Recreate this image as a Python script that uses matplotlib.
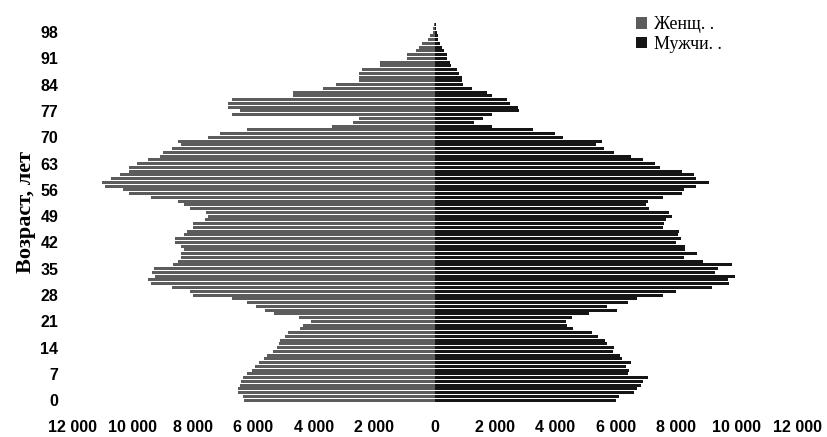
import numpy as np
import matplotlib.pyplot as plt
from matplotlib.ticker import FuncFormatter, FixedLocator

# age 0..100, persons (in thousands)
ages = np.arange(0, 101)

women = [6.3, 6.35, 6.5, 6.5, 6.45, 6.4, 6.35, 6.2, 6.05, 5.95,
         5.8, 5.65, 5.55, 5.35, 5.2, 5.15, 5.1, 4.95, 4.85, 4.45,
         4.35, 4.1, 4.5, 5.3, 5.6, 5.9, 6.2, 6.7, 8.0, 8.1,
         8.7, 9.4, 9.5, 9.25, 9.35, 9.3, 8.65, 8.5, 8.4, 8.4,
         8.3, 8.4, 8.6, 8.6, 8.3, 8.2, 8.0, 8.0, 7.6, 7.5,
         7.55, 8.1, 8.3, 8.5, 9.4, 10.1, 10.3, 10.9, 11.0, 10.7,
         10.4, 10.1, 10.1, 9.85, 9.5, 9.1, 9.0, 8.7, 8.4, 8.5,
         7.5, 7.1, 6.2, 3.4, 2.7, 2.5, 6.7, 6.45, 6.85, 6.85,
         6.7, 4.7, 4.7, 3.7, 3.25, 2.5, 2.5, 2.5, 2.4, 1.8,
         1.8, 0.9, 0.9, 0.6, 0.5, 0.4, 0.2, 0.15, 0.06, 0.05,
         0.03]

men = [6.0, 6.1, 6.6, 6.7, 6.85, 6.9, 7.05, 6.4, 6.45, 6.35,
       6.5, 6.2, 6.15, 5.9, 5.95, 5.7, 5.65, 5.4, 5.2, 4.6,
       4.4, 4.35, 4.55, 5.1, 6.05, 5.7, 6.4, 6.7, 7.55, 8.0,
       9.2, 9.75, 9.7, 9.95, 9.3, 9.4, 9.85, 8.9, 8.25, 8.7,
       8.3, 8.3, 8.0, 8.15, 8.05, 8.1, 7.55, 7.6, 7.65, 7.85,
       7.75, 7.1, 7.0, 7.05, 7.55, 8.2, 8.25, 8.65, 9.1, 8.65,
       8.6, 8.2, 7.45, 7.3, 6.9, 6.5, 5.95, 5.6, 5.35, 5.55,
       4.25, 4.0, 3.25, 1.9, 1.3, 1.6, 1.9, 2.8, 2.75, 2.5,
       2.4, 1.9, 1.75, 1.25, 0.95, 0.9, 0.9, 0.8, 0.75, 0.55,
       0.5, 0.4, 0.4, 0.3, 0.25, 0.17, 0.12, 0.1, 0.07, 0.05,
       0.04]

age_ticks = list(range(0, 99, 7))
x_ticks = list(range(-12000, 12001, 2000))

women = np.array(women) * 1000
men = np.array(men) * 1000

fig = plt.figure(figsize=(8.28, 4.37), dpi=100)
ax = fig.add_axes([0.087, 0.080, 0.8756, 0.868])

ax.barh(ages, -women, height=0.8, color='#5c5c5c', label='Женщ. .')
ax.barh(ages, men, height=0.8, color='#151515', label='Мужчи. .')

ax.set_xlim(-12000, 12000)
ax.set_ylim(-0.5, 100.5)
ax.xaxis.set_major_locator(FixedLocator(x_ticks))
ax.xaxis.set_major_formatter(FuncFormatter(lambda v, p: f"{abs(int(v)):,}".replace(",", " ")))
ax.set_yticks(age_ticks)

for s in ax.spines.values():
    s.set_visible(False)
ax.tick_params(axis='both', length=0)
ax.tick_params(axis='x', pad=13)
ax.tick_params(axis='y', pad=10)
for lab in ax.get_xticklabels() + ax.get_yticklabels():
    lab.set_fontfamily('Liberation Sans')
    lab.set_fontweight('bold')
    lab.set_fontsize(11.5)

ax.set_ylabel('Возраст, лет', family='Liberation Serif', fontsize=16,
              fontweight='bold', labelpad=3)

h, l = ax.get_legend_handles_labels()
fig.legend(h, l, loc='upper left', bbox_to_anchor=(0.749, 1.0), frameon=False,
           prop={'family': 'Liberation Serif', 'size': 13},
           handlelength=0.6, handleheight=0.6, handletextpad=0.35, labelspacing=0.15)

fig.savefig('out.png', dpi=100)
